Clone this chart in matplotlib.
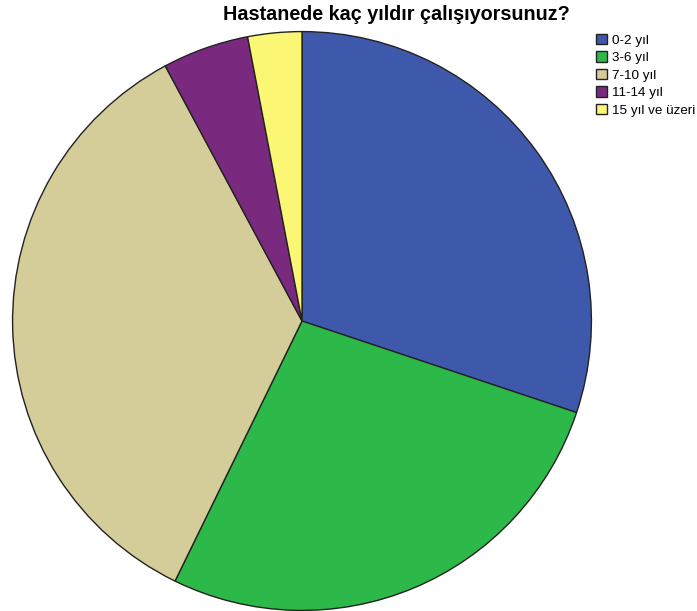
import matplotlib.pyplot as plt

plt.rcParams['font.family'] = ['Liberation Sans', 'DejaVu Sans']

# Years worked at the hospital
labels = ['0-2 yıl', '3-6 yıl', '7-10 yıl', '11-14 yıl', '15 yıl ve üzeri']
counts = [50, 45, 58, 8, 5]
colors = ['#3E58AC', '#2DB84A', '#D4CC99', '#7A2A7E', '#FBF674']

W, H = 697, 611
fig = plt.figure(figsize=(W / 100, H / 100), dpi=100)

cx, cy, r = 302, 321, 290
ax = fig.add_axes([(cx - r) / W, (H - cy - r) / H, 2 * r / W, 2 * r / H])
wedges, _ = ax.pie(counts, colors=colors, startangle=90, counterclock=False,
                   wedgeprops={'edgecolor': '#222222', 'linewidth': 1.0})
ax.set_xlim(-1.002, 1.002)
ax.set_ylim(-1.002, 1.002)
ax.axis('off')

fig.text(396 / W, 1 - 20 / H, 'Hastanede kaç yıldır çalışıyorsunuz?',
         ha='center', va='baseline', fontsize=14.2, fontweight='bold')

leg = fig.legend(wedges, labels, loc='upper left', bbox_to_anchor=(596 / W, 1 - 34 / H),
                 frameon=False, fontsize=9.7, handlelength=0.85, handleheight=0.78,
                 handletextpad=0.37, labelspacing=0.35, borderpad=0.0, borderaxespad=0.0)

fig.savefig('out.png', dpi=100)
